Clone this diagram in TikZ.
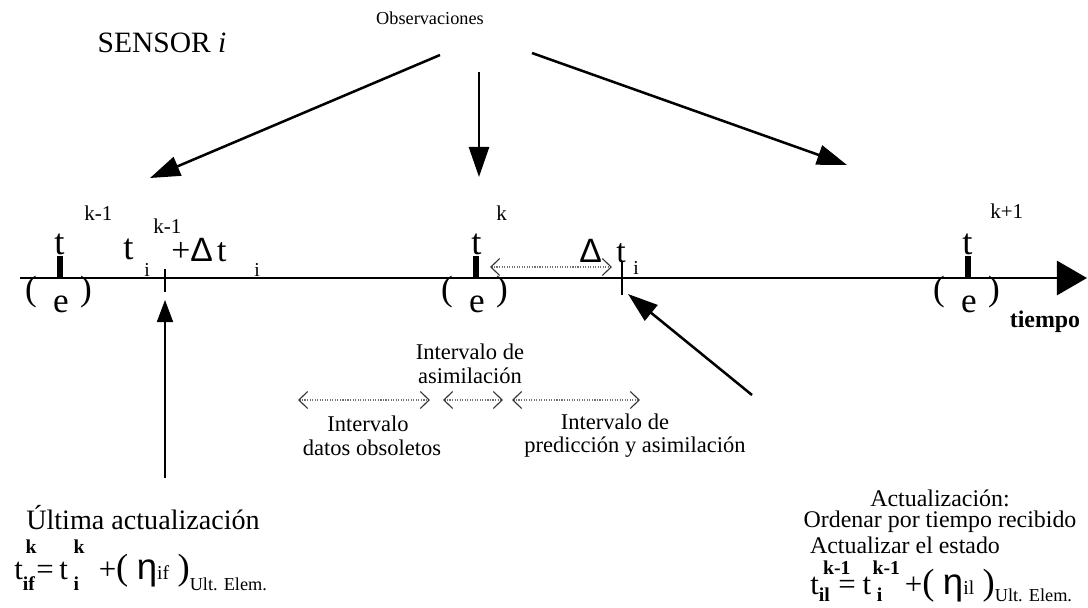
\documentclass[tikz,border=0pt]{standalone}
\usepackage{fontspec}
\setmainfont{Liberation Serif}
\newfontfamily\sff{Liberation Sans}
\usetikzlibrary{arrows.meta}
\newcommand\fs[1]{\fontsize{#1}{#1}\selectfont}
\begin{document}
\begin{tikzpicture}[x=0.025cm,y=-0.025cm,
    obs/.style={line width=1.8pt,-{Triangle[length=0.75cm,width=0.5cm]}},
    marca/.style={line width=4pt},
    marcachica/.style={line width=2pt},
    intv/.style={black!55,densely dotted,line width=0.8pt,
      {Straight Barb[length=0.22cm,width=0.42cm,line width=0.8pt,color=black!80]}-{Straight Barb[length=0.22cm,width=0.42cm,line width=0.8pt,color=black!80]}},
    txt/.style={inner sep=0pt,font=\fs{16}},
    lbl/.style={inner sep=0pt,anchor=base west},
  ]
  \useasboundingbox (0,0) rectangle (1088,607);

  % titulos
  \node[inner sep=0pt,font=\fs{21}] (sensor) at (162,43) {SENSOR \textit{i}};
  \node[inner sep=0pt,font=\fs{13}] (obs) at (430,18) {Observaciones};

  % flechas de observaciones
  \coordinate (o1a) at (440,55);  \coordinate (o1b) at (150,178);
  \coordinate (o2a) at (479,72);  \coordinate (o2b) at (479,177);
  \coordinate (o3a) at (532,53);  \coordinate (o3b) at (847,165);
  \draw[obs] (o1a) -- (o1b);
  \draw[obs] (o2a) -- (o2b);
  \draw[obs] (o3a) -- (o3b);

  % eje de tiempo
  \coordinate (ejeA) at (20,278);
  \coordinate (ejeB) at (1087,278);
  \draw[line width=2pt,-{Triangle[length=0.75cm,width=0.85cm]}] (ejeA) -- (ejeB);
  \node[inner sep=0pt,font=\fs{17}\bfseries] (tiempo) at (1045,322) {tiempo};

  % instantes t^{k-1}, t^k, t^{k+1}
  \foreach \x/\n in {60/a,476/b,968/c}{
    \draw[marca] (\x,256) -- (\x,278);
    \node[inner sep=0pt,font=\fs{25}] (pi\n) at (\x-29,292) {(};
    \node[inner sep=0pt,font=\fs{25}] (pd\n) at (\x+26,292) {)};
    \node[inner sep=0pt,font=\fs{25}] (e\n) at (\x+1,304) {e};
  }
  \node[lbl,font=\fs{26}] (ta) at (54,254) {t};
  \node[lbl,font=\fs{15}] (tasup) at (84,220) {k-1};
  \node[lbl,font=\fs{26}] (tb) at (471,254) {t};
  \node[lbl,font=\fs{15}] (tbsup) at (496,220) {k};
  \node[lbl,font=\fs{26}] (tc) at (962,254) {t};
  \node[lbl,font=\fs{15}] (tcsup) at (990,218) {k+1};

  % ultima actualizacion en el eje
  \draw[marcachica] (165,269) -- (165,292);
  \node[lbl,font=\fs{26}] (ti) at (123,259) {t};
  \node[lbl,font=\fs{14}] (tisub) at (144,276) {i};
  \node[lbl,font=\fs{15}] (tisup) at (153,233) {k-1};
  \node[lbl,font=\fs{24}] (tidt) at (171,261) {+{\sff Δ}\kern3pt t};
  \node[lbl,font=\fs{14}] (tidtsub) at (254,276) {i};

  % llegada de la observacion
  \draw[marcachica] (622,262) -- (622,295);
  \node[lbl,font=\fs{24}] (dt) at (579,262) {\sff Δ};
  \node[lbl,font=\fs{24}] (dtt) at (616,262) {t};
  \node[lbl,font=\fs{14}] (dtsub) at (633,274) {i};
  \coordinate (rA) at (490,267);
  \coordinate (rB) at (612,267);
  \draw[intv] (rA) -- (rB);

  % intervalos
  \node[txt] (asim1) at (470,352) {Intervalo de};
  \node[txt] (asim2) at (470,376) {asimilación};
  \coordinate (i1a) at (298,400); \coordinate (i1b) at (430,400);
  \coordinate (i2a) at (443,400); \coordinate (i2b) at (503,400);
  \coordinate (i3a) at (512,400); \coordinate (i3b) at (640,400);
  \draw[intv] (i1a) -- (i1b);
  \draw[intv] (i2a) -- (i2b);
  \draw[intv] (i3a) -- (i3b);
  \node[txt] (obso1) at (368,424) {Intervalo};
  \node[txt] (obso2) at (372,448) {datos obsoletos};
  \node[txt] (pred1) at (615,422) {Intervalo de};
  \node[txt] (pred2) at (635,447) {predicción y asimilación};

  % ultima actualizacion
  \node[inner sep=0pt,font=\fs{20}] (ult) at (143,518) {Última actualización};
  \node[lbl,font=\fs{22}] (fult) at (14,579)
    {t\rlap{\kern2pt\raisebox{18pt}{\fs{14}\bfseries k}}\raisebox{-8pt}{\fs{14}\bfseries if}\kern1pt=\kern4pt
     t\rlap{\kern4pt\raisebox{18pt}{\fs{14}\bfseries k}}\kern4pt\raisebox{-8pt}{\fs{14}\bfseries i}\kern14pt
     +{\fs{26}(}\kern6pt{\sff\fs{26}η}{\fs{14}if}\kern6pt{\fs{26})}\raisebox{-8pt}{\fs{13}Ult. Elem.}};
  \coordinate (uA) at (165,478);
  \coordinate (uB) at (165,300);
  \draw[line width=1.2pt,-{Triangle[length=0.55cm,width=0.4cm]}] (uA) -- (uB);

  % actualizacion
  \node[inner sep=0pt,font=\fs{17}] (act) at (940,498) {Actualización:};
  \node[inner sep=0pt,font=\fs{17}] (act1) at (940,522) {Ordenar por tiempo recibido};
  \node[inner sep=0pt,font=\fs{17}] (act2) at (905,545) {Actualizar el estado};
  \node[lbl,font=\fs{22}] (fact) at (810,594)
    {t\rlap{\kern3pt\raisebox{14pt}{\fs{14}\bfseries k-1}}\raisebox{-5pt}{\fs{14}\bfseries il}\kern6pt=\kern5pt
     t\rlap{\kern1pt\raisebox{14pt}{\fs{14}\bfseries k-1}}\kern4pt\raisebox{-5pt}{\fs{14}\bfseries i}\kern16pt
     +{\fs{26}(}\kern6pt{\sff\fs{26}η}{\fs{14}il}\kern6pt{\fs{26})}\raisebox{-5pt}{\fs{13}Ult. Elem.}};
  \coordinate (aA) at (752,395);
  \coordinate (aB) at (628,294);
  \draw[line width=1.8pt,-{Triangle[length=0.75cm,width=0.5cm]}] (aA) -- (aB);
\end{tikzpicture}
\end{document}
